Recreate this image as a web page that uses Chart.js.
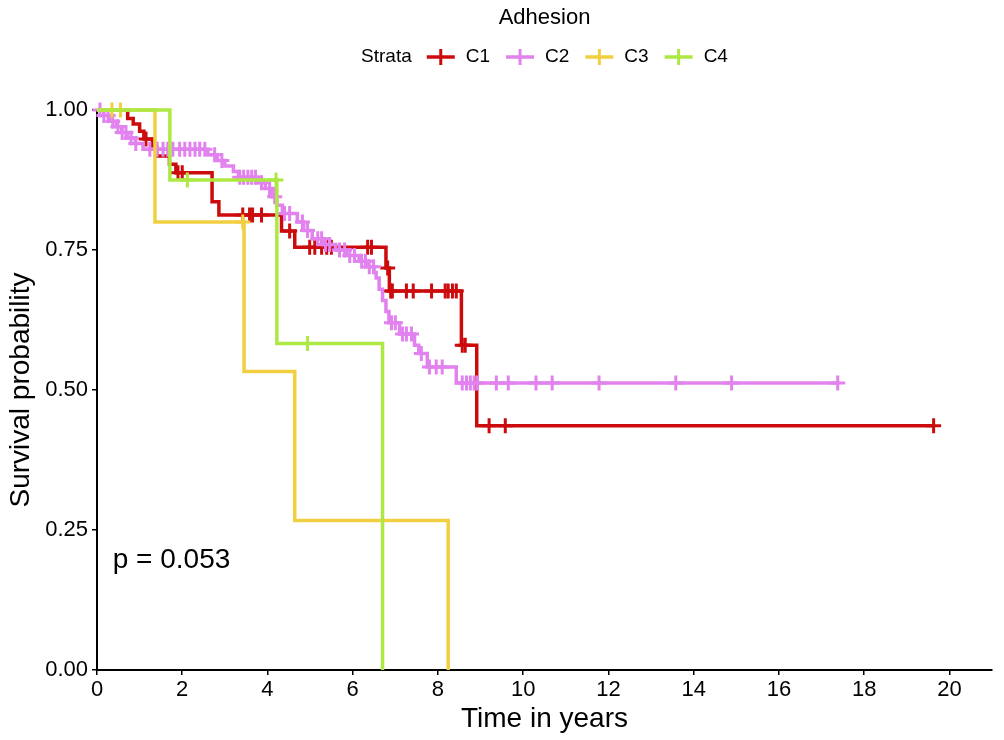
<!DOCTYPE html>
<html><head><meta charset="utf-8">
<script src="https://cdn.jsdelivr.net/npm/chart.js@4.4.1/dist/chart.umd.min.js"></script>
<style>html,body{margin:0;padding:0;background:#fff;}#wrap{width:1004px;height:740px;position:relative;}</style>
</head><body><div id="wrap"><canvas id="c" width="1004" height="740"></canvas></div>
<script>
const chartTitle = 'Adhesion';
const legendTitle = 'Strata';
const seriesNames = ['C1', 'C2', 'C3', 'C4'];
const seriesColors = ['#CC0C0C', '#E282EE', '#F1CF40', '#ADE843'];
const xTicks = [0, 2, 4, 6, 8, 10, 12, 14, 16, 18, 20];
const yTicks = [0, 0.25, 0.5, 0.75, 1];
const xTitle = 'Time in years';
const yTitle = 'Survival probability';
const pValueText = 'p = 0.053';

// C1
const c1Time = [0, 0.72, 0.85, 1.0, 1.1, 1.3, 1.4, 1.7, 1.85, 2.7, 2.86, 4.33, 4.64, 6.78, 6.86, 8.55, 8.91, 19.63];
const c1Surv = [1, 0.985, 0.975, 0.962, 0.948, 0.933, 0.918, 0.903, 0.888, 0.836, 0.8125, 0.784, 0.755, 0.718, 0.677, 0.58, 0.436, 0.436];
const c1Censor = [1.15, 1.9, 2.0, 3.42, 3.58, 3.65, 3.86, 4.52, 4.99, 5.11, 5.27, 5.39, 5.50, 6.35, 6.44, 6.82, 6.89, 6.93, 7.26, 7.42, 7.85, 8.17, 8.24, 8.34, 8.43, 8.57, 8.64, 9.2, 9.58, 19.63];
// C2
const c2Time = [0, 0.16, 0.30, 0.45, 0.58, 0.72, 0.90, 1.08, 2.60, 2.82, 3.0, 3.2, 3.32, 3.78, 3.95, 4.1, 4.22, 4.35, 4.7, 4.85, 5.05, 5.3, 5.6, 5.85, 6.15, 6.35, 6.5, 6.55, 6.62, 6.70, 6.78, 6.85, 7.1, 7.45, 7.55, 7.75, 8.43, 17.38];
const c2Surv = [1, 0.99, 0.98, 0.97, 0.96, 0.95, 0.94, 0.93, 0.92, 0.91, 0.90, 0.89, 0.88, 0.87, 0.86, 0.845, 0.83, 0.815, 0.80, 0.785, 0.77, 0.76, 0.75, 0.74, 0.73, 0.72, 0.71, 0.70, 0.68, 0.66, 0.64, 0.62, 0.60, 0.58, 0.565, 0.541, 0.5125, 0.5125];
const c2Censor = [0.07, 0.16, 0.26, 0.37, 0.49, 0.59, 0.68, 0.80, 0.91, 1.24, 1.41, 1.55, 1.66, 1.78, 1.94, 2.06, 2.18, 2.30, 2.41, 2.53, 2.76, 2.93, 3.35, 3.44, 3.54, 3.63, 3.72, 3.86, 4.05, 4.17, 4.40, 4.52, 4.82, 4.94, 5.18, 5.27, 5.36, 5.46, 5.69, 5.81, 5.93, 6.04, 6.21, 6.30, 6.39, 6.49, 6.91, 7.0, 7.17, 7.26, 7.38, 7.61, 7.80, 7.96, 8.10, 8.57, 8.67, 8.76, 8.85, 8.92, 9.37, 9.65, 10.30, 10.68, 11.78, 13.58, 14.89, 17.38];
// C3
const c3Time = [0, 1.36, 3.45, 4.64, 8.24];
const c3Surv = [1, 0.80, 0.533, 0.267, 0];
const c3Censor = [0.35, 0.55, 3.42];
// C4
const c4Time = [0, 1.71, 4.22, 6.70];
const c4Surv = [1, 0.875, 0.583, 0];
const c4Censor = [2.12, 4.2, 4.94];

const allTimes = [c1Time, c2Time, c3Time, c4Time];
const allSurv = [c1Surv, c2Surv, c3Surv, c4Surv];
const allCensor = [c1Censor, c2Censor, c3Censor, c4Censor];

const FONT = "'Liberation Sans', Arial, Helvetica, sans-serif";

function survAt(times, surv, t) {
  let v = surv[0];
  for (let i = 0; i < times.length; i++) { if (times[i] <= t) v = surv[i]; }
  return v;
}

const datasets = [];
seriesNames.forEach((name, i) => {
  datasets.push({
    type: 'line', label: name,
    data: allTimes[i].map((t, k) => ({x: t, y: allSurv[i][k]})),
    borderColor: seriesColors[i], borderWidth: 3.5, stepped: 'before',
    pointRadius: 0, fill: false, clip: 10, order: 10 - i
  });
  datasets.push({
    type: 'scatter', label: name + ' censor',
    data: allCensor[i].map(t => ({x: t, y: survAt(allTimes[i], allSurv[i], t)})),
    pointStyle: 'cross', pointRadius: 7.5, pointBorderWidth: 3,
    borderColor: seriesColors[i], backgroundColor: seriesColors[i],
    clip: 10, order: 10 - i
  });
});

const overlay = {
  id: 'overlay',
  afterDraw(chart) {
    const ctx = chart.ctx, ca = chart.chartArea;
    const xs = chart.scales.x, ys = chart.scales.y;
    ctx.save();
    ctx.fillStyle = '#000';
    const cx = (ca.left + ca.right) / 2;
    ctx.font = '22px ' + FONT;
    ctx.textAlign = 'center'; ctx.textBaseline = 'middle';
    ctx.fillText(chartTitle, cx, 18);
    ctx.font = '19px ' + FONT;
    const wT = ctx.measureText(legendTitle).width;
    const symW = 28, g1 = 15, g2 = 11, g3 = 16;
    let total = wT + g1;
    seriesNames.forEach((n, i) => { total += symW + g2 + ctx.measureText(n).width + (i < seriesNames.length - 1 ? g3 : 0); });
    let x = cx - total / 2;
    const ly = 57;
    ctx.textAlign = 'left';
    ctx.fillText(legendTitle, x, ly);
    x += wT + g1;
    seriesNames.forEach((n, i) => {
      ctx.strokeStyle = seriesColors[i];
      ctx.lineWidth = 3.5;
      ctx.beginPath(); ctx.moveTo(x, ly); ctx.lineTo(x + symW, ly); ctx.stroke();
      ctx.lineWidth = 3;
      ctx.beginPath(); ctx.moveTo(x + symW / 2, ly - 8); ctx.lineTo(x + symW / 2, ly + 8); ctx.stroke();
      x += symW + g2;
      ctx.fillStyle = '#000';
      ctx.fillText(n, x, ly);
      x += ctx.measureText(n).width + g3;
    });
    ctx.font = '28px ' + FONT;
    ctx.textAlign = 'left'; ctx.textBaseline = 'middle';
    ctx.fillText(pValueText, xs.getPixelForValue(0.37), ys.getPixelForValue(0.2) + 2);
    ctx.restore();
  }
};

new Chart(document.getElementById('c'), {
  data: { datasets },
  options: {
    responsive: false, animation: false, devicePixelRatio: 1,
    layout: { padding: { top: 110, right: 12, left: 0, bottom: 0 } },
    plugins: { legend: { display: false }, tooltip: { enabled: false } },
    scales: {
      x: {
        type: 'linear', min: 0, max: 21,
        afterFit(s) { s.height = 70; },
        afterBuildTicks(s) { s.ticks = xTicks.map(v => ({value: v})); },
        ticks: { color: '#000', font: { family: FONT, size: 22 }, padding: 2, maxRotation: 0, autoSkip: false },
        grid: { drawOnChartArea: false, drawTicks: true, tickLength: 5, color: '#000', lineWidth: 1.5 },
        border: { display: true, color: '#000', width: 2 },
        title: { display: true, text: xTitle, color: '#000', font: { family: FONT, size: 28 }, padding: { top: 0, bottom: 4 } }
      },
      y: {
        type: 'linear', min: 0, max: 1,
        afterFit(s) { s.width = 97; },
        afterBuildTicks(s) { s.ticks = yTicks.map(v => ({value: v})); },
        ticks: { color: '#000', font: { family: FONT, size: 22 }, padding: 4, callback: v => Number(v).toFixed(2), autoSkip: false },
        grid: { drawOnChartArea: false, drawTicks: true, tickLength: 5, color: '#000', lineWidth: 1.5 },
        border: { display: true, color: '#000', width: 2 },
        title: { display: true, text: yTitle, color: '#000', font: { family: FONT, size: 28 }, padding: { top: 4, bottom: 0 } }
      }
    }
  },
  plugins: [overlay]
});
</script></body></html>
